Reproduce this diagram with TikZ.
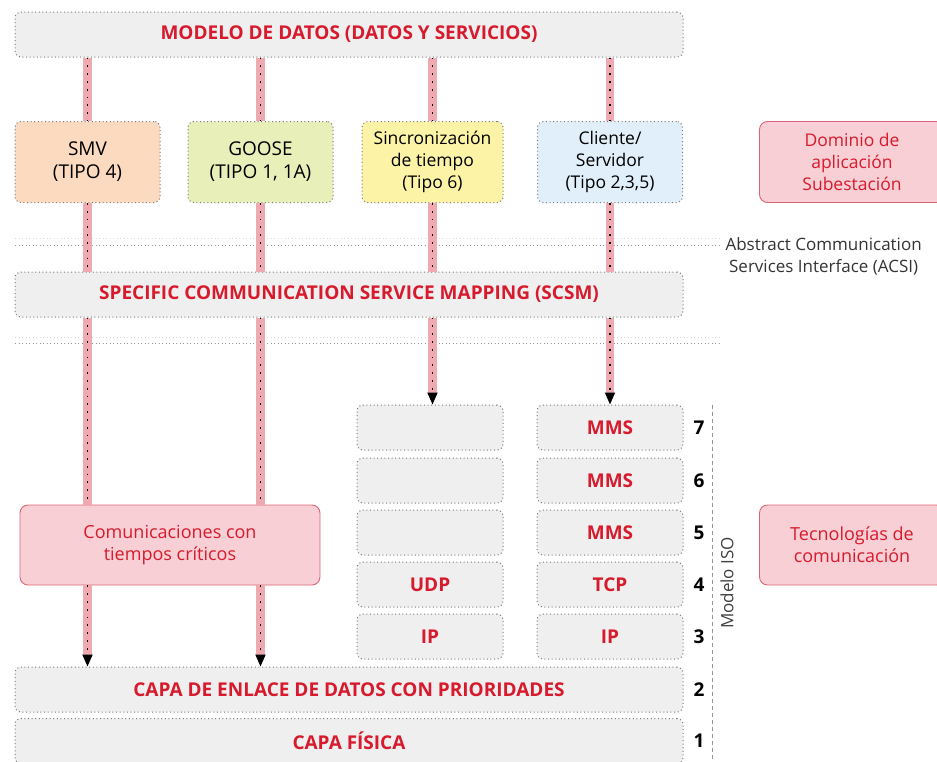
\documentclass[tikz,border=0pt]{standalone}
\usepackage{fontspec}
\setmainfont{Open Sans}
\usetikzlibrary{positioning, arrows.meta}

\definecolor{rojo}{HTML}{D71A2C}
\definecolor{rosa}{HTML}{EFA9B1}
\definecolor{rosafondo}{HTML}{F8CFD5}
\definecolor{rosaborde}{HTML}{DC6676}
\definecolor{grisfondo}{HTML}{EFEFF0}
\definecolor{grisborde}{HTML}{7A7A7A}
\definecolor{naranja}{HTML}{FCDAC0}
\definecolor{verdoso}{HTML}{E9EFB9}
\definecolor{amarillo}{HTML}{FCF3A7}
\definecolor{celeste}{HTML}{E1EFFA}

\tikzset{
    capa/.style={draw=grisborde, line width=1pt, dash pattern=on 1pt off 2.6pt,
        fill=grisfondo, rounded corners=6pt,
        minimum height=45pt, text=rojo, font=\fontsize{19}{22}\selectfont\bfseries},
    ancha/.style={capa, minimum width=668pt},
    pila/.style={capa, minimum width=146pt},
    servicio/.style={draw=grisborde, line width=1pt, dash pattern=on 1pt off 2.6pt,
        rounded corners=6pt, align=center,
        minimum width=145pt, minimum height=81pt, font=\fontsize{19}{23}\selectfont},
    dominio/.style={draw=rosaborde, line width=0.9pt, fill=rosafondo, rounded corners=8pt,
        align=center, text=rojo, font=\fontsize{17.5}{22}\selectfont},
    num/.style={inner sep=0pt, font=\fontsize{19}{22}\selectfont\bfseries},
    barra/.style={draw=rosa, line width=8.5pt},
    punteo/.style={draw=black, line width=1.8pt, dash pattern=on 1.8pt off 6pt},
    flecha/.style={punteo, -{Triangle[width=10pt,length=12pt]}},
    separador/.style={draw=grisborde!80, line width=0.8pt, dash pattern=on 1pt off 2.5pt}
}

\begin{document}
\begin{tikzpicture}[x=1pt, y=-1pt]
    \useasboundingbox (0,0) rectangle (937,761);

    % capas generales
    \node[ancha] (modelo) at (349,34.5) {MODELO DE DATOS (DATOS Y SERVICIOS)};
    \node[ancha] (scsm)   at (349,294.5) {SPECIFIC COMMUNICATION SERVICE MAPPING (SCSM)};
    \node[ancha] (enlace) at (349,689.5) {CAPA DE ENLACE DE DATOS CON PRIORIDADES};
    \node[ancha] (fisica) at (349,741) {CAPA FÍSICA};

    % servicios
    \node[servicio, fill=naranja]  (smv)     at (87.5,162) {SMV\\(TIPO 4)};
    \node[servicio, fill=verdoso]  (goose)   at (260.5,162) {GOOSE\\(TIPO 1, 1A)};
    \node[servicio, fill=amarillo, minimum width=141pt, font=\fontsize{17.5}{22}\selectfont]
        (sinc) at (432.5,162) {Sincronización\\de tiempo\\(Tipo 6)};
    \node[servicio, fill=celeste, font=\fontsize{17.5}{22}\selectfont]
        (cliente) at (610,162) {Cliente/\\Servidor\\(Tipo 2,3,5)};

    % dominios
    \node[dominio, minimum width=185pt, minimum height=81pt] (subest) at (852,162)
        {Dominio de\\aplicación\\Subestación};
    \node[dominio, minimum width=185pt, minimum height=80pt, font=\fontsize{18}{22}\selectfont]
        (tecno) at (852,545) {Tecnologías de\\comunicación};
    \node[dominio, minimum width=300pt, minimum height=80pt, font=\fontsize{18}{22}\selectfont]
        (criticos) at (170,545) {Comunicaciones con\\tiempos críticos};

    % pilas
    \node[pila] (i7) at (430,427.5) {};
    \node[pila] (i6) at (430,480.5) {};
    \node[pila] (i5) at (430,532.5) {};
    \node[pila] (i4) at (430,584.5) {UDP};
    \node[pila] (i3) at (430,636.5) {IP};
    \node[pila] (d7) at (610,427.5) {MMS};
    \node[pila] (d6) at (610,480.5) {MMS};
    \node[pila] (d5) at (610,532.5) {MMS};
    \node[pila] (d4) at (610,584.5) {TCP};
    \node[pila] (d3) at (610,636.5) {IP};

    % niveles ISO
    \foreach \n in {7,6,5,4,3}
        \node[num, right=10pt of d\n] (iso\n) {\n};
    \node[num, right=10pt of enlace] (iso2) {2};
    \node[num, right=10pt of fisica] (iso1) {1};
    \coordinate (isoarriba) at (712,405);
    \coordinate (isoabajo) at (712,761);
    \draw[draw=grisborde!80, line width=0.7pt, dash pattern=on 4pt off 3pt] (isoarriba) -- (isoabajo);
    \node[rotate=90, font=\fontsize{17}{20}\selectfont, text=black!75] (modeloiso) at (727,583) {Modelo ISO};

    % separadores ACSI
    \coordinate (acsiizq) at (15,245);
    \coordinate (acsider) at (720,245);
    \coordinate (mapizq) at (15,343);
    \coordinate (mapder) at (720,343);
    \draw[separador] (acsiizq) -- (acsider);
    \draw[separador, draw=grisborde!30] ([yshift=7pt]acsiizq) -- ([yshift=7pt]acsider);
    \draw[separador] (mapizq) -- (mapder);
    \draw[separador, draw=grisborde!30] ([yshift=6pt]mapizq) -- ([yshift=6pt]mapder);
    \node[align=center, anchor=west, font=\fontsize{17}{22}\selectfont, text=black!80] (acsi) at (722,256)
        {Abstract Communication\\Services Interface (ACSI)};

    % flujos verticales
    \foreach \s in {smv, goose, sinc, cliente} {
        \draw[barra] (modelo.south -| \s) -- (\s.north);
        \draw[punteo] (modelo.south -| \s) -- (\s.north);
        \draw[barra] (\s.south) -- (scsm.north -| \s);
        \draw[punteo] (\s.south) -- (scsm.north -| \s);
    }
    \foreach \s in {smv, goose} {
        \draw[barra] (scsm.south -| \s) -- (criticos.north -| \s);
        \draw[punteo] (scsm.south -| \s) -- (criticos.north -| \s);
        \draw[barra, shorten >=11pt] (criticos.south -| \s) -- (enlace.north -| \s);
        \draw[flecha] (criticos.south -| \s) -- (enlace.north -| \s);
    }
    \draw[barra, shorten >=11pt] (scsm.south -| sinc) -- (i7.north -| sinc);
    \draw[flecha] (scsm.south -| sinc) -- (i7.north -| sinc);
    \draw[barra, shorten >=11pt] (scsm.south -| cliente) -- (d7.north);
    \draw[flecha] (scsm.south -| cliente) -- (d7.north);
\end{tikzpicture}
\end{document}
